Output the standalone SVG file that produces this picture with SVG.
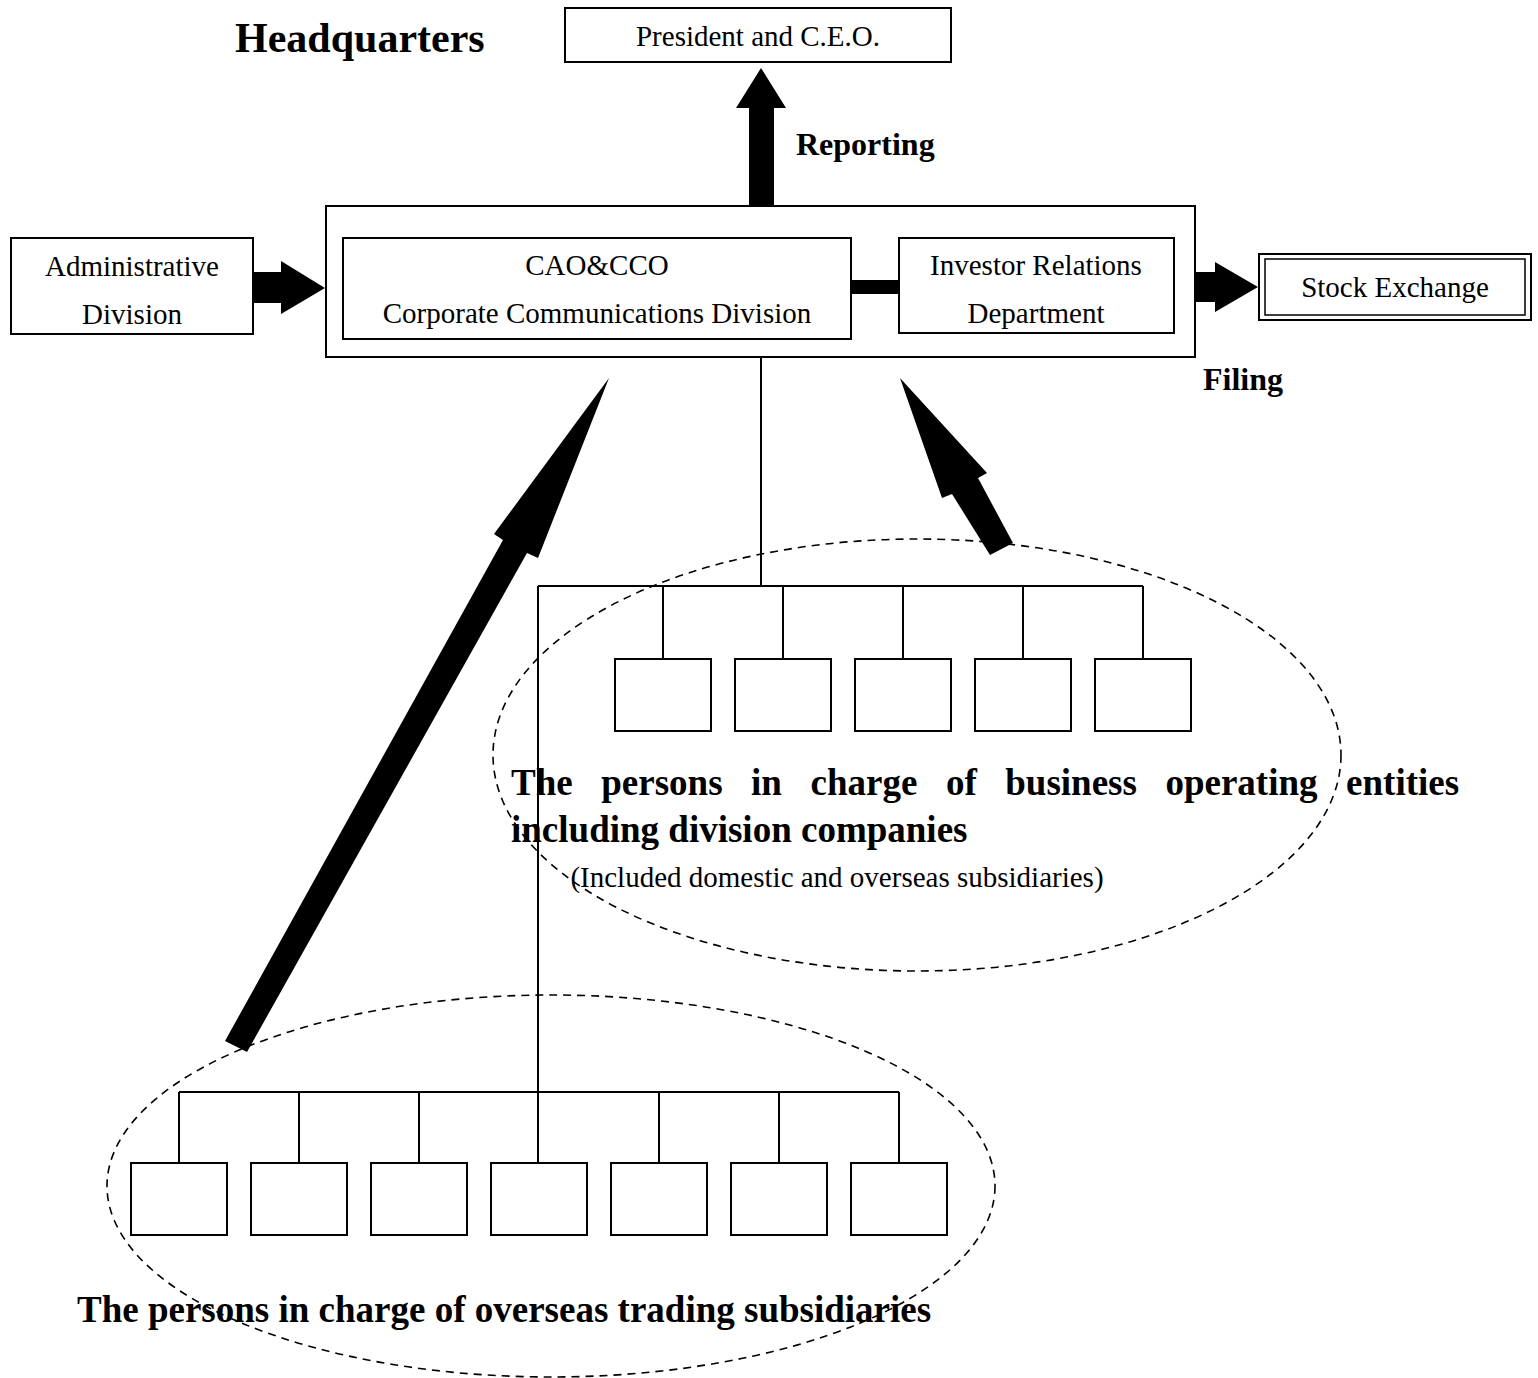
<svg xmlns="http://www.w3.org/2000/svg" width="1538" height="1378" viewBox="0 0 1538 1378">
<style>
  .box { fill: #fff; stroke: #000; stroke-width: 2; }
  .t { font-family: "Liberation Serif", "Times New Roman", serif; font-size: 29px; fill: #000; }
  .b { font-family: "Liberation Serif", "Times New Roman", serif; font-weight: bold; fill: #000; }
  .line { stroke: #000; stroke-width: 2; fill: none; }
  .dash { fill: none; stroke: #000; stroke-width: 1.6; stroke-dasharray: 8 6; }
  .arrow { fill: #000; stroke: none; }
</style>
<rect width="1538" height="1378" fill="#fff"/>

<g id="groups">
  <ellipse class="dash" cx="917" cy="755" rx="424" ry="216"/>
  <ellipse class="dash" cx="551" cy="1186" rx="444" ry="191"/>
</g>

<text class="b" x="235" y="52" font-size="42">Headquarters</text>

<g id="president">
  <rect class="box" x="565" y="8" width="386" height="54"/>
  <text class="t" x="758" y="46" text-anchor="middle">President and C.E.O.</text>
</g>

<g id="headquarters">
  <rect class="box" x="326" y="206" width="869" height="151"/>
</g>

<g id="cao">
  <rect class="box" x="343" y="238" width="508" height="101"/>
  <text class="t" x="597" y="275" text-anchor="middle">CAO&amp;CCO</text>
  <text class="t" x="597" y="323" text-anchor="middle">Corporate Communications Division</text>
</g>

<g id="ir">
  <rect class="box" x="899" y="238" width="275" height="95"/>
  <text class="t" x="1036" y="275" text-anchor="middle">Investor Relations</text>
  <text class="t" x="1036" y="323" text-anchor="middle">Department</text>
</g>

<g id="admin">
  <rect class="box" x="11" y="238" width="242" height="96"/>
  <text class="t" x="132" y="276" text-anchor="middle">Administrative</text>
  <text class="t" x="132" y="324" text-anchor="middle">Division</text>
</g>

<g id="stock-exchange">
  <rect class="box" x="1259" y="254" width="272" height="66"/>
  <rect fill="none" stroke="#000" stroke-width="1.5" x="1265" y="259" width="260" height="56"/>
  <text class="t" x="1395" y="297" text-anchor="middle">Stock Exchange</text>
</g>

<g id="top-units">
  <rect class="box" x="615" y="659" width="96" height="72"/>
  <rect class="box" x="735" y="659" width="96" height="72"/>
  <rect class="box" x="855" y="659" width="96" height="72"/>
  <rect class="box" x="975" y="659" width="96" height="72"/>
  <rect class="box" x="1095" y="659" width="96" height="72"/>
</g>

<g id="bottom-units">
  <rect class="box" x="131" y="1163" width="96" height="72"/>
  <rect class="box" x="251" y="1163" width="96" height="72"/>
  <rect class="box" x="371" y="1163" width="96" height="72"/>
  <rect class="box" x="491" y="1163" width="96" height="72"/>
  <rect class="box" x="611" y="1163" width="96" height="72"/>
  <rect class="box" x="731" y="1163" width="96" height="72"/>
  <rect class="box" x="851" y="1163" width="96" height="72"/>
</g>

<g id="connectors">
  <path class="line" d="M761 357V586M538 586H1143M663 586V659M783 586V659M903 586V659M1023 586V659M1143 586V659"/>
  <path class="line" d="M538 586V1163M179 1092H899M179 1092V1163M299 1092V1163M419 1092V1163M659 1092V1163M779 1092V1163M899 1092V1163"/>
  <rect class="arrow" x="851" y="280" width="48" height="14"/>
  <polygon class="arrow" points="749,206 749,108 736,108 761,68 786,108 774,108 774,206"/>
  <polygon class="arrow" points="253,272 281,272 281,261 325,288 281,314 281,303 253,303"/>
  <polygon class="arrow" points="1195,272 1215,272 1215,262 1258,287 1215,312 1215,302 1195,302"/>
  <polygon class="arrow" points="609,378 538,558 527,553 247,1052 225,1041 503,540 494,534"/>
  <polygon class="arrow" points="900,378 987,473 978,478 1013,543 990,555 952,494 942,498"/>
</g>

<text class="b" x="796" y="155" font-size="32">Reporting</text>
<text class="b" x="1203" y="390" font-size="32">Filing</text>

<text class="b" x="511" y="795" font-size="37" word-spacing="19.3">The persons in charge of business operating entities</text>
<text class="b" x="511" y="842" font-size="37">including division companies</text>
<text class="t" x="837" y="887" font-size="28" text-anchor="middle">(Included domestic and overseas subsidiaries)</text>

<text class="b" x="77" y="1322" font-size="37">The persons in charge of overseas trading subsidiaries</text>
</svg>
